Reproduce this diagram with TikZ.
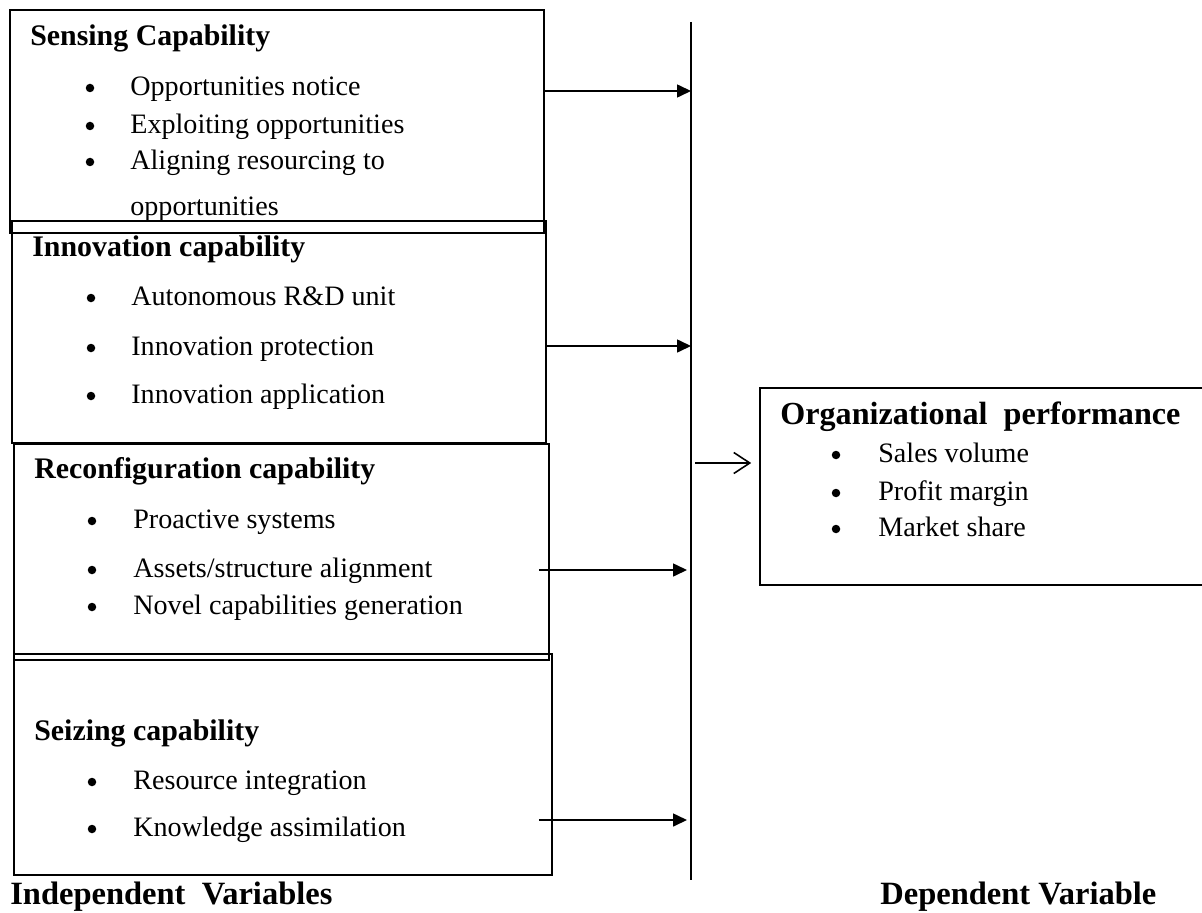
\documentclass[tikz,border=0pt]{standalone}
\usepackage{fontspec}
\setmainfont{Liberation Serif}
\usetikzlibrary{arrows.meta,positioning}
\newdimen\px \px=0.02cm
\tikzset{
  varbox/.style={draw, line width=0.9pt, inner sep=0pt},
  headtxt/.style={anchor=west, inner sep=0pt, text height=12pt, text depth=2pt,
    font=\bfseries\fontsize{17}{19}\selectfont},
  perfhead/.style={headtxt, font=\bfseries\fontsize{18.3}{20}\selectfont},
  itemtxt/.style={anchor=west, inner sep=0pt, text height=11pt, text depth=2pt,
    font=\fontsize{16}{18}\selectfont},
  dotmark/.style={circle, fill, inner sep=0pt, minimum size=8.5\px},
  busln/.style={line width=0.9pt},
  linkarr/.style={-{Triangle[length=2.8mm,width=2.6mm]}, line width=0.9pt},
  openarr/.style={-{Straight Barb[length=3.2mm,width=4.2mm]}, line width=0.9pt},
  foottxt/.style={anchor=west, inner sep=0pt, font=\bfseries\fontsize{18.5}{20}\selectfont},
}
% bullet + item text: name, bullet x, text x, y, text
\newcommand{\bulitem}[5]{%
  \node[dotmark] (#1dot) at (#2,#4) {};
  \node[itemtxt] (#1) at (#3,#4) {#5};
}

\begin{document}
\begin{tikzpicture}[x=\px, y=-\px]
  \useasboundingbox (0,0) rectangle (1202,912);
  % independent variables
  \node[varbox, minimum width=534\px, minimum height=223\px] (sense) at (277,121.5) {};
  \node[varbox, minimum width=534\px, minimum height=222\px] (innov) at (279,332) {};
  \node[varbox, minimum width=535\px, minimum height=216\px] (recon) at (281.5,552) {};
  \node[varbox, minimum width=538\px, minimum height=221\px] (seize) at (283,764.5) {};

  \node[headtxt] (sensehd) at (30,37) {Sensing Capability};
  \bulitem{s1}{90}{130}{88}{Opportunities notice}
  \bulitem{s2}{90}{130}{126}{Exploiting opportunities}
  \bulitem{s3}{90}{130}{162}{Aligning resourcing to}
  \node[itemtxt] (s3b) at (130,208) {opportunities};

  \node[headtxt] (innovhd) at (32,248) {Innovation capability};
  \bulitem{i1}{91}{131}{298}{Autonomous R\&D unit}
  \bulitem{i2}{91}{131}{348}{Innovation protection}
  \bulitem{i3}{91}{131}{396}{Innovation application}

  \node[headtxt] (reconhd) at (34,470) {Reconfiguration capability};
  \bulitem{r1}{92}{133}{521}{Proactive systems}
  \bulitem{r2}{92}{133}{570}{Assets/structure alignment}
  \bulitem{r3}{92}{133}{607}{Novel capabilities generation}

  \node[headtxt] (seizehd) at (34,732) {Seizing capability};
  \bulitem{z1}{92}{133}{782}{Resource integration}
  \bulitem{z2}{92}{133}{829}{Knowledge assimilation}

  % dependent variable
  \node[varbox, minimum width=452\px, minimum height=197\px] (perf) at (986,486.5) {};
  \node[perfhead] (perfhd) at (780,416) {Organizational\ \ performance};
  \bulitem{p1}{836}{878}{455}{Sales volume}
  \bulitem{p2}{836}{878}{493}{Profit margin}
  \bulitem{p3}{836}{878}{529}{Market share}

  % the bus line and links
  \coordinate (bustop) at (691,22);
  \coordinate (busbot) at (691,880);
  \draw[busln] (bustop) -- (busbot);
  \coordinate (in1) at (691,91);
  \coordinate (in2) at (691,346);
  \coordinate (in3) at (687,570);
  \coordinate (in4) at (687,820);
  \coordinate (bus5) at (695,463);
  \draw[linkarr] (sense.east |- in1) -- (in1);
  \draw[linkarr] (innov.east |- in2) -- (in2);
  \draw[linkarr] ([xshift=-11\px]recon.east |- in3) -- (in3);
  \draw[linkarr] ([xshift=-14\px]seize.east |- in4) -- (in4);
  \draw[openarr] (bus5) -- ([xshift=-8\px]perf.west |- bus5);

  \node[foottxt] (indep) at (10,897) {Independent\ \ Variables};
  \node[foottxt] (dep) at (880,897) {Dependent Variable};
\end{tikzpicture}
\end{document}
